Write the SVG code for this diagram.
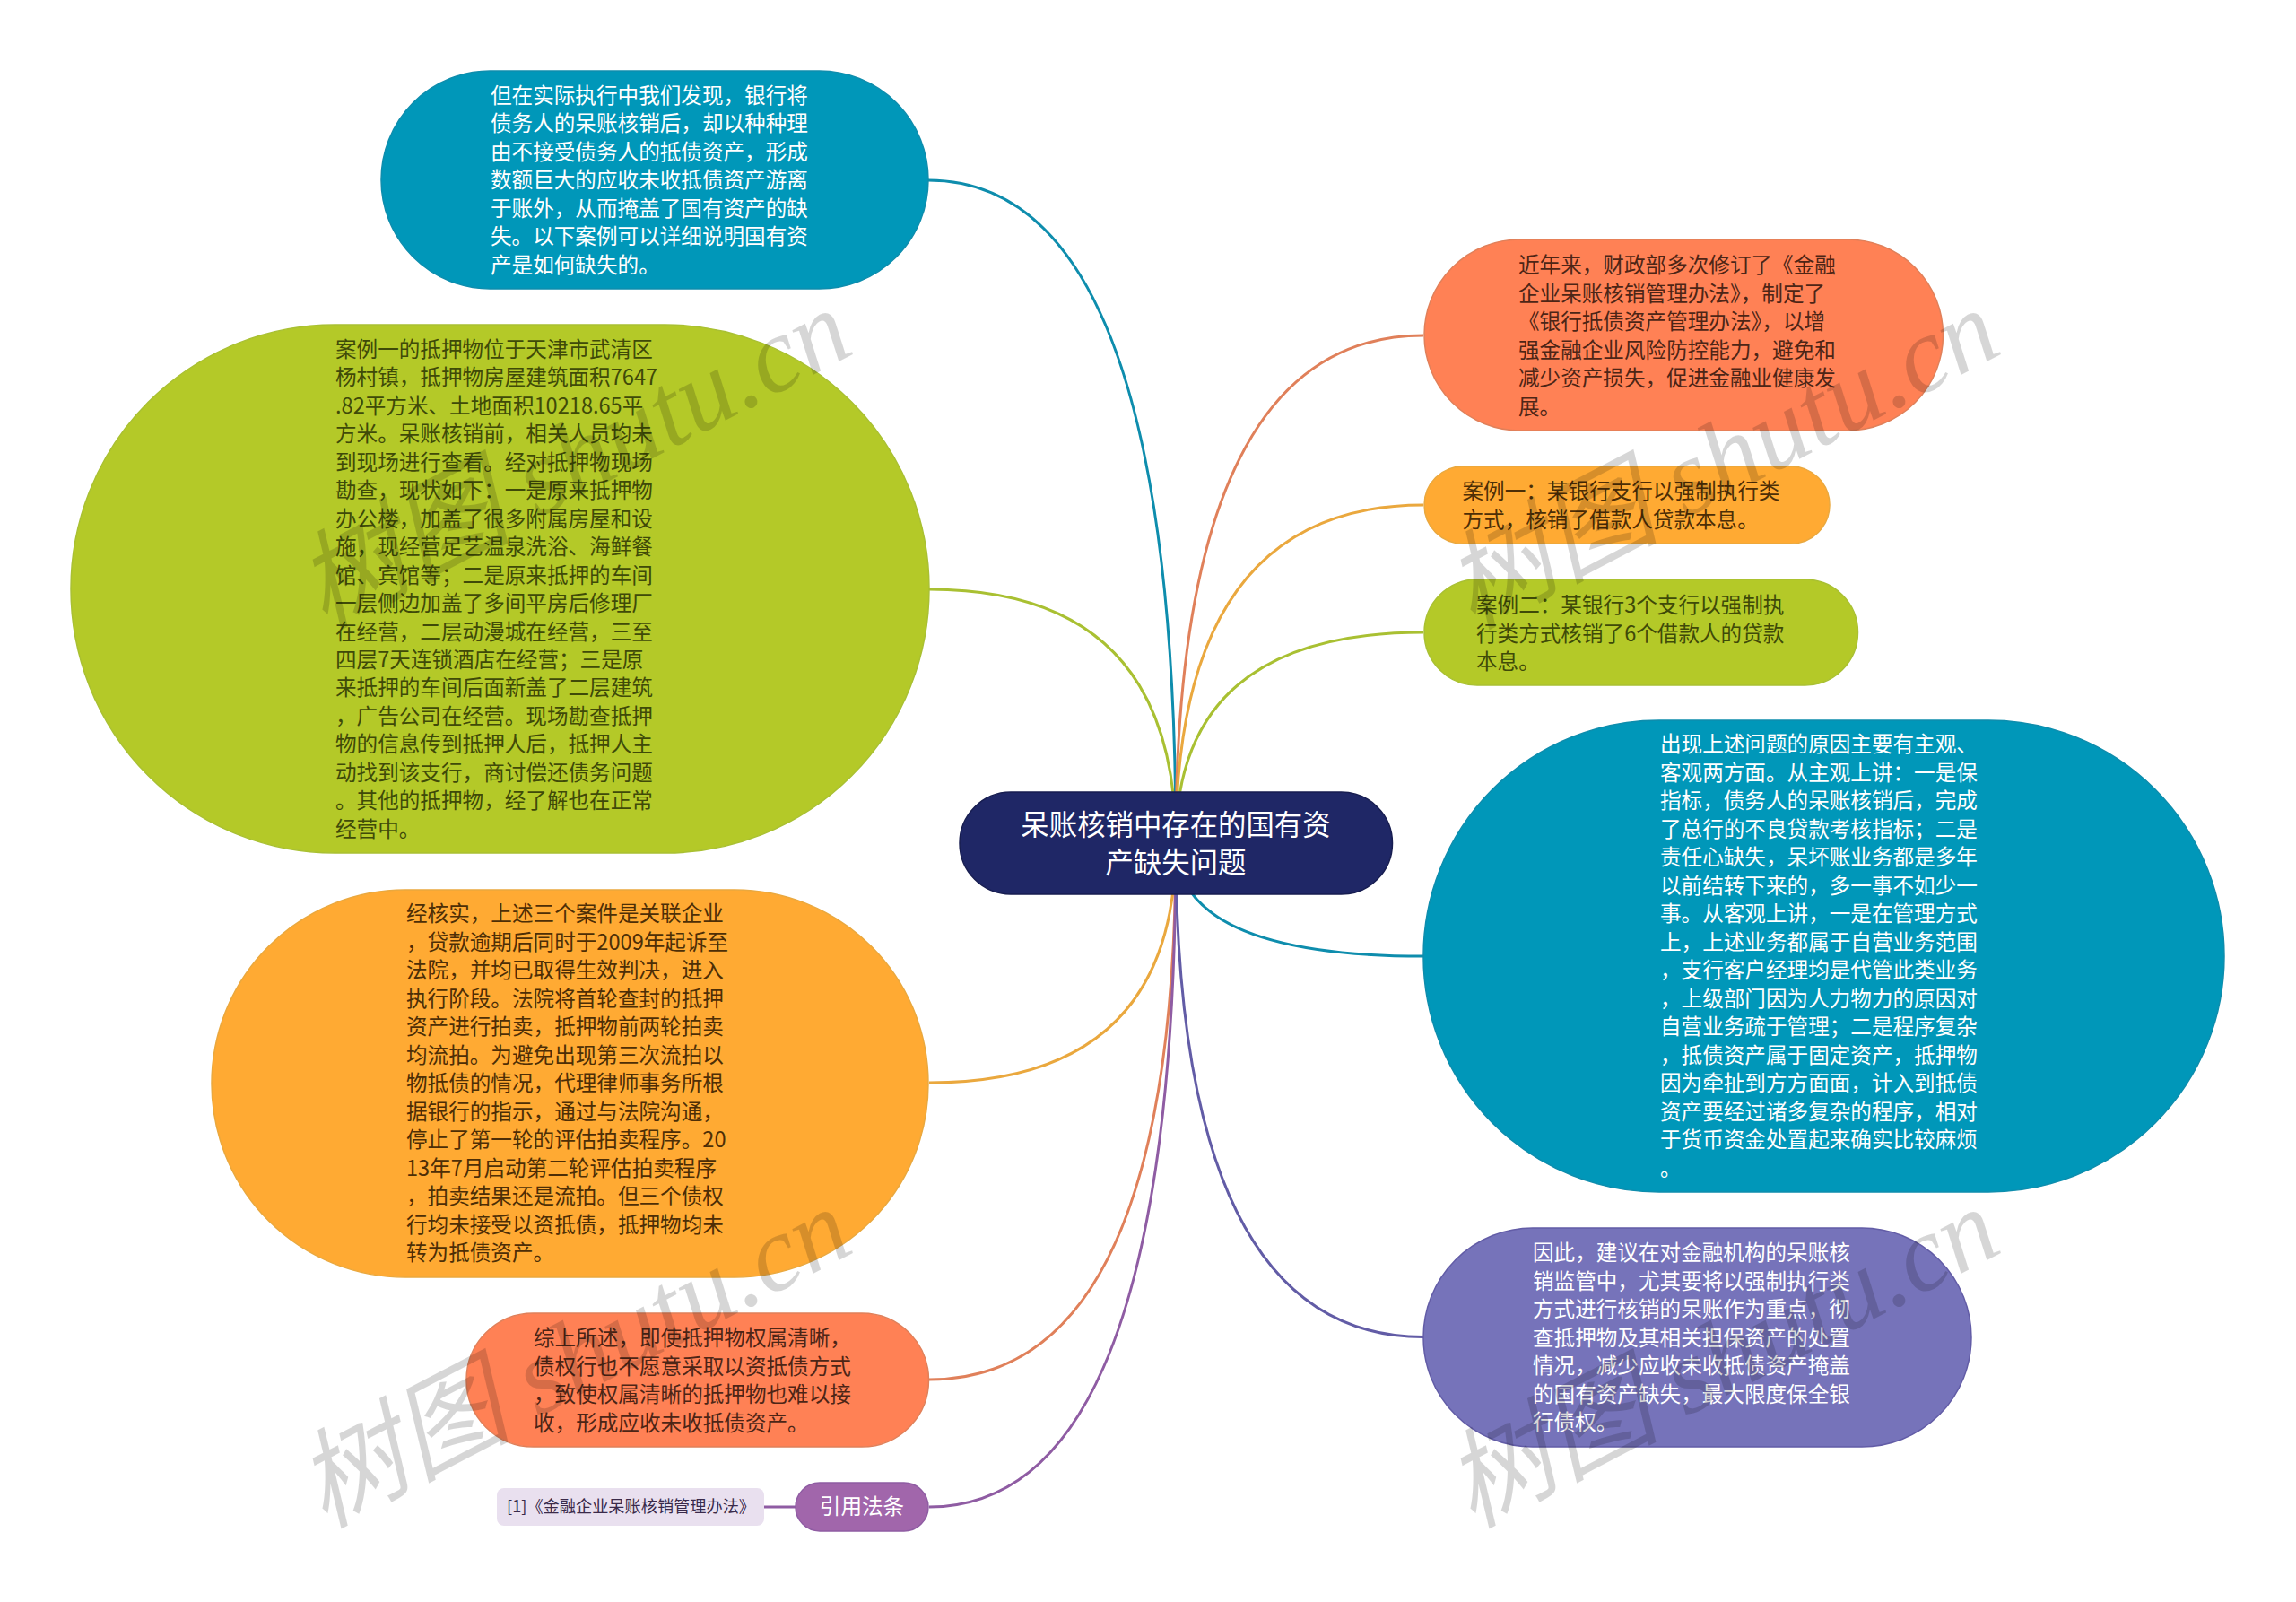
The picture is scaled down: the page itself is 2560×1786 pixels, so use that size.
<svg xmlns="http://www.w3.org/2000/svg" width="2560" height="1786" viewBox="0 0 2560 1786">
<style>
text{font-family:"Noto Sans CJK SC","Microsoft YaHei",sans-serif;font-size:23.600px}
.bg{fill:#fff}
.c{fill:none;stroke-width:3}
.w{fill:#fff}
.d1{fill:#3f4a08}
.d2{fill:#4d2e06}
.d3{fill:#4d2516}
.wm{font-family:"Liberation Serif","Noto Sans CJK SC",serif;font-style:italic;font-size:119.500px;fill:#000;fill-opacity:.16}
</style>
<rect class="bg" width="2560" height="1786"/>
<g id="connectors">
<path class="c" stroke="#0E8DAD" d="M1035 201Q1311 201 1311 940"/>
<path class="c" stroke="#A9C032" d="M1036 657Q1311 657 1311 940"/>
<path class="c" stroke="#EAA83E" d="M1036 1207Q1311 1207 1311 940"/>
<path class="c" stroke="#E0805A" d="M1036 1538Q1311 1538 1311 940"/>
<path class="c" stroke="#8F5CA3" d="M1036 1680Q1311 1680 1311 940"/>
<path class="c" stroke="#E0805A" d="M1587 374Q1311 374 1311 940"/>
<path class="c" stroke="#EAA83E" d="M1587 563Q1311 563 1311 940"/>
<path class="c" stroke="#A9C032" d="M1587 705Q1311 705 1311 940"/>
<path class="c" stroke="#0E8DAD" d="M1587 1066Q1311 1066 1311 940"/>
<path class="c" stroke="#625CA6" d="M1587 1490.500Q1311 1490.500 1311 940"/>
<path class="c" stroke="#8F5CA3" d="M852 1680H887"/>
</g>
<g id="center"><rect x="1070" y="883" width="482.500" height="114" rx="57" ry="57" fill="#1F2766" stroke="#171D50" stroke-width="1.500"/>
<text fill="#fff" text-anchor="middle" style="font-size:31.400px"><tspan x="1311" y="931">呆账核销中存在的国有资</tspan><tspan x="1311" y="973">产缺失问题</tspan></text></g>
<g id="node-a"><rect x="425" y="79" width="610" height="243" rx="121.500" ry="121.500" fill="#0097B9" stroke="#0E8DAD" stroke-width="1.500"/>
<text class="w"><tspan x="547" y="114.500">但在实际执行中我们发现，银行将</tspan><tspan x="547" dy="31.500">债务人的呆账核销后，却以种种理</tspan><tspan x="547" dy="31.500">由不接受债务人的抵债资产，形成</tspan><tspan x="547" dy="31.500">数额巨大的应收未收抵债资产游离</tspan><tspan x="547" dy="31.500">于账外，从而掩盖了国有资产的缺</tspan><tspan x="547" dy="31.500">失。以下案例可以详细说明国有资</tspan><tspan x="547" dy="31.500">产是如何缺失的。</tspan></text></g>
<g id="node-b"><rect x="79" y="362" width="957" height="589" rx="294.500" ry="294.500" fill="#B4C928" stroke="#A9C032" stroke-width="1.500"/>
<text class="d1"><tspan x="374" y="398">案例一的抵押物位于天津市武清区</tspan><tspan x="374" dy="31.450">杨村镇，抵押物房屋建筑面积7647</tspan><tspan x="374" dy="31.450">.82平方米、土地面积10218.65平</tspan><tspan x="374" dy="31.450">方米。呆账核销前，相关人员均未</tspan><tspan x="374" dy="31.450">到现场进行查看。经对抵押物现场</tspan><tspan x="374" dy="31.450">勘查，现状如下：一是原来抵押物</tspan><tspan x="374" dy="31.450">办公楼，加盖了很多附属房屋和设</tspan><tspan x="374" dy="31.450">施，现经营足艺温泉洗浴、海鲜餐</tspan><tspan x="374" dy="31.450">馆、宾馆等；二是原来抵押的车间</tspan><tspan x="374" dy="31.450">一层侧边加盖了多间平房后修理厂</tspan><tspan x="374" dy="31.450">在经营，二层动漫城在经营，三至</tspan><tspan x="374" dy="31.450">四层7天连锁酒店在经营；三是原</tspan><tspan x="374" dy="31.450">来抵押的车间后面新盖了二层建筑</tspan><tspan x="374" dy="31.450">，广告公司在经营。现场勘查抵押</tspan><tspan x="374" dy="31.450">物的信息传到抵押人后，抵押人主</tspan><tspan x="374" dy="31.450">动找到该支行，商讨偿还债务问题</tspan><tspan x="374" dy="31.450">。其他的抵押物，经了解也在正常</tspan><tspan x="374" dy="31.450">经营中。</tspan></text></g>
<g id="node-c"><rect x="236" y="992" width="799" height="432" rx="216" ry="216" fill="#FFAA33" stroke="#EAA83E" stroke-width="1.500"/>
<text class="d2"><tspan x="453" y="1027">经核实，上述三个案件是关联企业</tspan><tspan x="453" dy="31.500">，贷款逾期后同时于2009年起诉至</tspan><tspan x="453" dy="31.500">法院，并均已取得生效判决，进入</tspan><tspan x="453" dy="31.500">执行阶段。法院将首轮查封的抵押</tspan><tspan x="453" dy="31.500">资产进行拍卖，抵押物前两轮拍卖</tspan><tspan x="453" dy="31.500">均流拍。为避免出现第三次流拍以</tspan><tspan x="453" dy="31.500">物抵债的情况，代理律师事务所根</tspan><tspan x="453" dy="31.500">据银行的指示，通过与法院沟通，</tspan><tspan x="453" dy="31.500">停止了第一轮的评估拍卖程序。20</tspan><tspan x="453" dy="31.500">13年7月启动第二轮评估拍卖程序</tspan><tspan x="453" dy="31.500">，拍卖结果还是流拍。但三个债权</tspan><tspan x="453" dy="31.500">行均未接受以资抵债，抵押物均未</tspan><tspan x="453" dy="31.500">转为抵债资产。</tspan></text></g>
<g id="node-d"><rect x="520" y="1464" width="515.500" height="149" rx="74.500" ry="74.500" fill="#FF8155" stroke="#E0805A" stroke-width="1.500"/>
<text class="d3"><tspan x="595" y="1500">综上所述，即使抵押物权属清晰，</tspan><tspan x="595" dy="31.500">债权行也不愿意采取以资抵债方式</tspan><tspan x="595" dy="31.500">，致使权属清晰的抵押物也难以接</tspan><tspan x="595" dy="31.500">收，形成应收未收抵债资产。</tspan></text></g>
<g id="node-e"><rect x="887" y="1653" width="148" height="54" rx="27" ry="27" fill="#A166AB" stroke="#8F5CA3" stroke-width="1.500"/>
<text fill="#fff" text-anchor="middle" x="961" y="1688">引用法条</text></g>
<g id="node-e1"><rect x="554" y="1659" width="298" height="42" rx="8" ry="8" fill="#E9E0EF"/>
<text fill="#3a2a4a" x="565" y="1686" style="font-size:18.200px">[1]《金融企业呆账核销管理办法》</text></g>
<g id="node-f"><rect x="1588" y="267" width="578.500" height="213" rx="106.500" ry="106.500" fill="#FF8155" stroke="#E0805A" stroke-width="1.500"/>
<text class="d3"><tspan x="1693" y="304">近年来，财政部多次修订了《金融</tspan><tspan x="1693" dy="31.500">企业呆账核销管理办法》，制定了</tspan><tspan x="1693" dy="31.500">《银行抵债资产管理办法》，以增</tspan><tspan x="1693" dy="31.500">强金融企业风险防控能力，避免和</tspan><tspan x="1693" dy="31.500">减少资产损失，促进金融业健康发</tspan><tspan x="1693" dy="31.500">展。</tspan></text></g>
<g id="node-g"><rect x="1588" y="520" width="452" height="86" rx="43" ry="43" fill="#FFAA33" stroke="#EAA83E" stroke-width="1.500"/>
<text class="d2"><tspan x="1630.500" y="556">案例一：某银行支行以强制执行类</tspan><tspan x="1630.500" dy="31.500">方式，核销了借款人贷款本息。</tspan></text></g>
<g id="node-h"><rect x="1588" y="646" width="483.500" height="118" rx="59" ry="59" fill="#B4C928" stroke="#A9C032" stroke-width="1.500"/>
<text class="d1"><tspan x="1646" y="683">案例二：某银行3个支行以强制执</tspan><tspan x="1646" dy="31.500">行类方式核销了6个借款人的贷款</tspan><tspan x="1646" dy="31.500">本息。</tspan></text></g>
<g id="node-i"><rect x="1587" y="803" width="893" height="526" rx="263" ry="263" fill="#0097B9" stroke="#0E8DAD" stroke-width="1.500"/>
<text class="w"><tspan x="1851" y="838">出现上述问题的原因主要有主观、</tspan><tspan x="1851" dy="31.500">客观两方面。从主观上讲：一是保</tspan><tspan x="1851" dy="31.500">指标，债务人的呆账核销后，完成</tspan><tspan x="1851" dy="31.500">了总行的不良贷款考核指标；二是</tspan><tspan x="1851" dy="31.500">责任心缺失，呆坏账业务都是多年</tspan><tspan x="1851" dy="31.500">以前结转下来的，多一事不如少一</tspan><tspan x="1851" dy="31.500">事。从客观上讲，一是在管理方式</tspan><tspan x="1851" dy="31.500">上，上述业务都属于自营业务范围</tspan><tspan x="1851" dy="31.500">，支行客户经理均是代管此类业务</tspan><tspan x="1851" dy="31.500">，上级部门因为人力物力的原因对</tspan><tspan x="1851" dy="31.500">自营业务疏于管理；二是程序复杂</tspan><tspan x="1851" dy="31.500">，抵债资产属于固定资产，抵押物</tspan><tspan x="1851" dy="31.500">因为牵扯到方方面面，计入到抵债</tspan><tspan x="1851" dy="31.500">资产要经过诸多复杂的程序，相对</tspan><tspan x="1851" dy="31.500">于货币资金处置起来确实比较麻烦</tspan><tspan x="1851" dy="31.500">。</tspan></text></g>
<g id="node-j"><rect x="1587" y="1369" width="611" height="244" rx="122" ry="122" fill="#7673BA" stroke="#625CA6" stroke-width="1.500"/>
<text class="w"><tspan x="1709" y="1405">因此，建议在对金融机构的呆账核</tspan><tspan x="1709" dy="31.500">销监管中，尤其要将以强制执行类</tspan><tspan x="1709" dy="31.500">方式进行核销的呆账作为重点，彻</tspan><tspan x="1709" dy="31.500">查抵押物及其相关担保资产的处置</tspan><tspan x="1709" dy="31.500">情况，减少应收未收抵债资产掩盖</tspan><tspan x="1709" dy="31.500">的国有资产缺失，最大限度保全银</tspan><tspan x="1709" dy="31.500">行债权。</tspan></text></g>
<g id="watermarks">
<text class="wm" transform="translate(361 702) rotate(-27.500)">树图 shutu.cn</text>
<text class="wm" transform="translate(361 1704) rotate(-27.500)">树图 shutu.cn</text>
<text class="wm" transform="translate(1641 702) rotate(-27.500)">树图 shutu.cn</text>
<text class="wm" transform="translate(1641 1704) rotate(-27.500)">树图 shutu.cn</text>
</g>
</svg>
